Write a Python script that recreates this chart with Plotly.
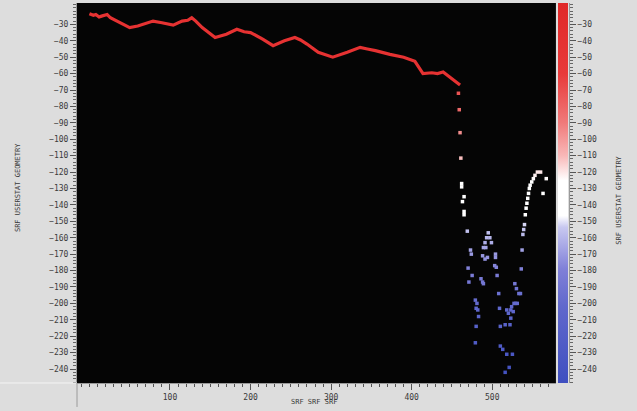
import plotly.graph_objects as go

# Red curve (SRF vs value)
curve_x = [0, 5, 8, 12, 15, 22, 26, 30, 40, 50, 60, 70, 79, 90, 104, 115, 122, 127, 132, 140, 156, 170, 183, 192, 200, 215,
           228, 242, 255, 262, 270, 284, 302, 320, 336, 345, 355, 373, 390, 404, 406, 414, 425, 432, 439, 450, 460]
curve_y = [-23.5, -24.5, -24, -25.5, -25, -24, -26, -27, -30, -32, -31, -29.5, -28, -29, -30.5, -28, -27.5, -26, -28, -32, -38, -36, -33, -34.5, -35, -39,
           -43, -40, -38, -39.5, -42, -47, -50, -47, -44, -45, -46, -48.3, -50, -52.5, -54, -60, -59.5, -60, -59, -63, -67]

# Scattered dots after the curve
dots_x = [458, 459, 460, 461, 462, 462, 465, 463, 465, 465, 469, 473, 474,
          470, 475, 471, 486, 488, 489, 479, 481, 480, 482, 483, 480, 479,
          495, 493, 497, 491, 499, 489, 492, 488, 491, 494, 504, 504, 503, 505, 506, 508, 509, 510,
          516, 522, 518, 523, 520, 526, 524, 529, 528, 530, 533, 535, 531, 527, 523,
          510, 513, 518, 525, 521, 516,
          536, 537, 538, 539, 540, 541, 542, 543, 544, 545, 546, 547, 549, 551, 553, 556, 560, 567, 563]
dots_y = [-72, -82, -96, -111.5, -127, -129, -135, -138, -144, -146, -156, -167.5, -170,
          -178.5, -183, -187, -185, -187, -188, -198, -200, -203, -204, -208, -214, -224,
          -157, -160, -160, -163, -163, -166, -166, -171, -173, -172, -170, -172, -177, -178, -183, -194, -203, -214,
          -213, -213, -204, -204, -206, -205, -202, -200, -188, -191, -194, -194, -200, -200, -209,
          -226, -228, -231, -231, -239, -242,
          -179, -167.5, -158, -155, -152, -146, -142, -139, -136, -133, -130, -128, -126, -124, -122, -120, -120, -124, -133]

y_ticks = list(range(-30, -241, -10))
x_ticks = [100, 200, 300, 400, 500]

x_range = [-15.4, 579]
y_range = [-248.5, -17]

colorscale = [
    [0.0, "#3f4fc0"],
    [0.2, "#6068cc"],
    [0.3, "#8080d8"],
    [0.36, "#a8a8e6"],
    [0.41, "#c8c8f0"],
    [0.44, "#ffffff"],
    [0.533, "#ffffff"],
    [0.598, "#f8b8b8"],
    [0.685, "#f07a7a"],
    [0.814, "#e83a3a"],
    [1.0, "#e02828"],
]

FONT = "DejaVu Sans Mono"
TXT = "#3a3a3a"

fig = go.Figure()

fig.add_trace(go.Scatter(
    x=curve_x, y=curve_y, mode="lines",
    line=dict(color="#e63232", width=3.2),
    showlegend=False, hoverinfo="skip",
))

fig.add_trace(go.Scatter(
    x=dots_x, y=dots_y, mode="markers",
    marker=dict(
        symbol="square", size=3.5, color=dots_y, colorscale=colorscale,
        cmin=y_range[0], cmax=y_range[1], line=dict(width=0),
        colorbar=dict(
            x=0.925, xanchor="left", xpad=0, thickness=10, thicknessmode="pixels",
            len=1, lenmode="fraction", y=0.5, yanchor="middle", ypad=0,
            outlinewidth=0, showticklabels=False, ticks="",
        ),
    ),
    showlegend=False,
))

# dummy trace for the right-hand tick axis
fig.add_trace(go.Scatter(x=[None], y=[None], yaxis="y2", showlegend=False, hoverinfo="skip"))

fig.update_layout(
    width=637, height=411,
    margin=dict(l=77, r=40, t=3, b=28),
    paper_bgcolor="#dddddd",
    plot_bgcolor="#050505",
    font=dict(family=FONT, size=8, color=TXT),
    xaxis=dict(
        domain=[0, 0.921], range=x_range, showgrid=False, zeroline=False,
        tickvals=x_ticks, ticks="outside", ticklen=6, tickcolor="#555555", tickwidth=1,
        minor=dict(dtick=10, tick0=0, ticks="outside", ticklen=3, tickcolor="#555555"),
        showline=True, linecolor="#9a9a9a", tickfont=dict(family=FONT, size=8, color=TXT),
    ),
    yaxis=dict(
        range=y_range, showgrid=False, zeroline=False,
        tickvals=y_ticks, ticks="outside", ticklen=6, tickcolor="#555555",
        minor=dict(dtick=2, tick0=0, ticks="outside", ticklen=3, tickcolor="#666666"),
        showline=True, linecolor="#9a9a9a", tickfont=dict(family=FONT, size=8, color=TXT),
    ),
    yaxis2=dict(
        overlaying="y", anchor="free", position=0.946, side="right",
        range=y_range, showgrid=False, zeroline=False,
        tickvals=y_ticks, ticks="outside", ticklen=6, tickcolor="#555555",
        minor=dict(dtick=2, tick0=0, ticks="outside", ticklen=3, tickcolor="#666666"),
        showline=True, linecolor="#9a9a9a", tickfont=dict(family=FONT, size=8, color=TXT),
    ),
    annotations=[
        dict(text="SRF USERSTAT GEOMETRY", xref="paper", yref="paper", x=-0.125, y=0.513,
             textangle=-90, showarrow=False, font=dict(family=FONT, size=7, color=TXT)),
        dict(text="SRF USERSTAT GEOMETRY", xref="paper", yref="paper", x=1.054, y=0.48,
             textangle=-90, showarrow=False, font=dict(family=FONT, size=7, color=TXT)),
        dict(text="SRF SRF SRF", xref="paper", yref="paper", x=0.455, y=-0.065,
             showarrow=False, font=dict(family=FONT, size=7, color=TXT)),
    ],
    shapes=[
        dict(type="line", xref="paper", yref="paper", x0=-0.148, x1=0, y0=0, y1=0,
             line=dict(color="#f4f4f4", width=1)),
        dict(type="line", xref="paper", yref="paper", x0=0, x1=0, y0=0, y1=-0.063,
             line=dict(color="#9a9a9a", width=1)),
    ],
)

fig.write_html("out.html", config={"displayModeBar": False},
               post_script="document.body.style.margin='0';")
